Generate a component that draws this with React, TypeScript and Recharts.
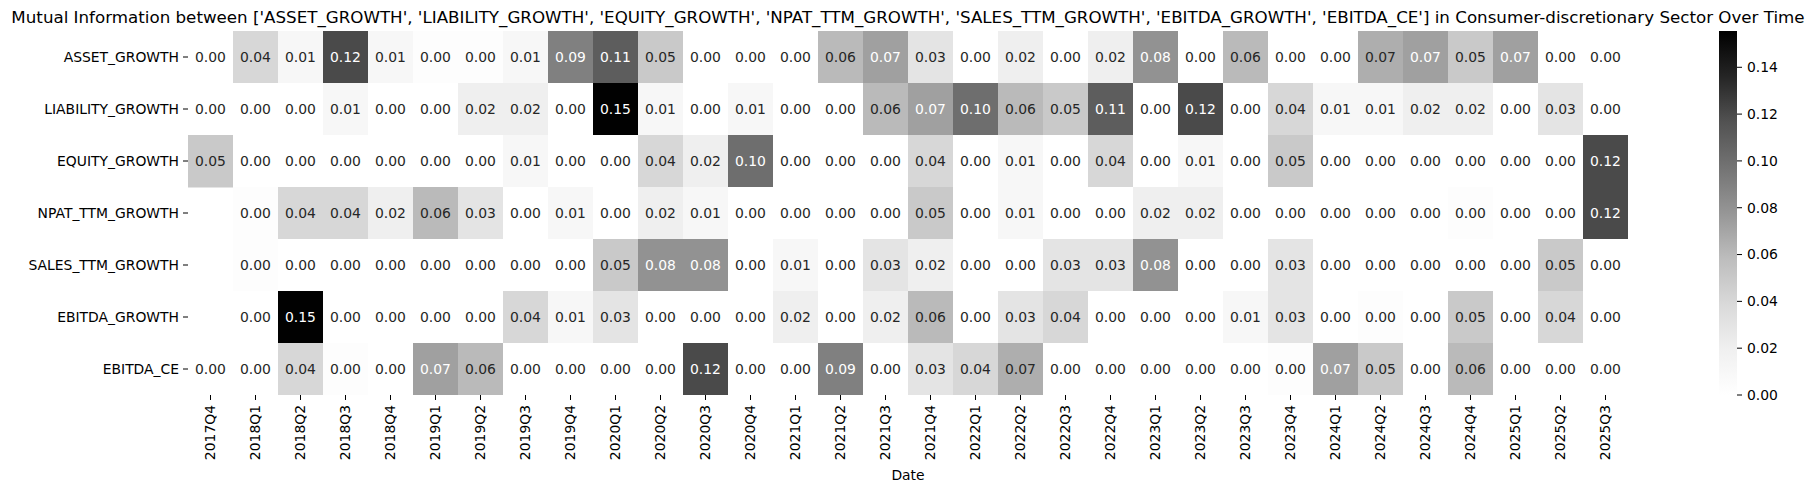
import { Bar, BarChart, Scatter, ScatterChart, XAxis, YAxis } from 'recharts';

const dates = [
  '2017Q4', '2018Q1', '2018Q2', '2018Q3', '2018Q4', '2019Q1', '2019Q2', '2019Q3',
  '2019Q4', '2020Q1', '2020Q2', '2020Q3', '2020Q4', '2021Q1', '2021Q2', '2021Q3',
  '2021Q4', '2022Q1', '2022Q2', '2022Q3', '2022Q4', '2023Q1', '2023Q2', '2023Q3',
  '2023Q4', '2024Q1', '2024Q2', '2024Q3', '2024Q4', '2025Q1', '2025Q2', '2025Q3',
];

const metrics = [
  'ASSET_GROWTH', 'LIABILITY_GROWTH', 'EQUITY_GROWTH', 'NPAT_TTM_GROWTH',
  'SALES_TTM_GROWTH', 'EBITDA_GROWTH', 'EBITDA_CE',
];

// values (some 0.07s nudged to match the text colour)
const assetGrowth = [0.00, 0.04, 0.01, 0.12, 0.01, 0.003, 0.003, 0.01, 0.09, 0.11, 0.05, 0.00, 0.00, 0.00, 0.06, 0.073, 0.03, 0.00, 0.02, 0.00, 0.02, 0.08, 0.00, 0.06, 0.00, 0.00, 0.066, 0.073, 0.05, 0.073, 0.00, 0.00];
const liabilityGrowth = [0.00, 0.00, 0.00, 0.01, 0.00, 0.00, 0.02, 0.02, 0.00, 0.155, 0.01, 0.00, 0.01, 0.00, 0.00, 0.06, 0.073, 0.10, 0.06, 0.05, 0.11, 0.00, 0.12, 0.00, 0.04, 0.01, 0.01, 0.02, 0.02, 0.00, 0.03, 0.00];
const equityGrowth = [0.05, 0.00, 0.00, 0.00, 0.00, 0.00, 0.00, 0.01, 0.00, 0.00, 0.04, 0.02, 0.10, 0.00, 0.00, 0.00, 0.04, 0.00, 0.01, 0.00, 0.04, 0.00, 0.01, 0.00, 0.05, 0.00, 0.00, 0.00, 0.00, 0.00, 0.00, 0.12];
const npatTtmGrowth = [null, 0.003, 0.04, 0.04, 0.02, 0.06, 0.03, 0.00, 0.01, 0.00, 0.02, 0.01, 0.00, 0.00, 0.00, 0.00, 0.05, 0.00, 0.01, 0.00, 0.00, 0.02, 0.02, 0.00, 0.00, 0.00, 0.00, 0.00, 0.003, 0.00, 0.00, 0.12];
const salesTtmGrowth = [null, 0.003, 0.00, 0.00, 0.00, 0.00, 0.00, 0.00, 0.00, 0.05, 0.08, 0.08, 0.00, 0.01, 0.00, 0.03, 0.02, 0.00, 0.00, 0.03, 0.03, 0.08, 0.00, 0.00, 0.03, 0.00, 0.00, 0.00, 0.00, 0.00, 0.05, 0.00];
const ebitdaGrowth = [null, 0.00, 0.155, 0.00, 0.00, 0.00, 0.00, 0.04, 0.01, 0.03, 0.00, 0.00, 0.00, 0.02, 0.00, 0.02, 0.06, 0.00, 0.03, 0.04, 0.00, 0.00, 0.00, 0.01, 0.03, 0.00, 0.003, 0.00, 0.05, 0.00, 0.04, 0.00];
const ebitdaCe = [0.00, 0.00, 0.04, 0.003, 0.00, 0.073, 0.06, 0.00, 0.00, 0.00, 0.00, 0.12, 0.00, 0.00, 0.09, 0.00, 0.03, 0.04, 0.066, 0.00, 0.00, 0.00, 0.00, 0.00, 0.003, 0.073, 0.05, 0.00, 0.06, 0.00, 0.00, 0.00];

const rows = [assetGrowth, liabilityGrowth, equityGrowth, npatTtmGrowth, salesTtmGrowth, ebitdaGrowth, ebitdaCe];

const colorbarTicks = [0, 0.02, 0.04, 0.06, 0.08, 0.1, 0.12, 0.14];
const VMAX = 0.1555;

const W = 1808;
const H = 490;
const PLOT_LEFT = 188;
const PLOT_TOP = 31;
const PLOT_W = 1440;
const PLOT_H = 364;
const X_AXIS_H = H - PLOT_TOP - PLOT_H;
const cellW = PLOT_W / dates.length;
const cellH = PLOT_H / metrics.length;

const FONT = '"DejaVu Sans", sans-serif';
const GREYS = ['#ffffff', '#f0f0f0', '#d9d9d9', '#bdbdbd', '#969696', '#737373', '#525252', '#252525', '#000000'];

const greyLevel = (v: number) => {
  const f = Math.max(0, Math.min(1, v / VMAX)) * (GREYS.length - 1);
  const i = Math.min(GREYS.length - 2, Math.floor(f));
  const t = f - i;
  const a = parseInt(GREYS[i].slice(1, 3), 16);
  const b = parseInt(GREYS[i + 1].slice(1, 3), 16);
  return Math.round(a + (b - a) * t);
};

const textColor = (g: number) => {
  const c = g / 255;
  const lin = c <= 0.03928 ? c / 12.92 : Math.pow((c + 0.055) / 1.055, 2.4);
  return lin > 0.408 ? '#262626' : '#ffffff';
};

const cells = rows.flatMap((vals, yi) =>
  vals.map((v, xi) => ({ xi, yi, v })),
);

const Cell = (props: any) => {
  const { cx, cy, payload } = props;
  if (payload.v === null || payload.v === undefined) return <g />;
  const g = greyLevel(payload.v);
  return (
    <g>
      <rect
        x={cx - cellW / 2}
        y={cy - cellH / 2}
        width={cellW + 0.5}
        height={cellH + 0.5}
        fill={`rgb(${g},${g},${g})`}
      />
      <text
        x={cx}
        y={cy}
        dy="0.36em"
        textAnchor="middle"
        fontSize={13.9}
        fontFamily={FONT}
        fill={textColor(g)}
      >
        {payload.v.toFixed(2)}
      </text>
    </g>
  );
};

const DateTick = (props: any) => {
  const { x, y, payload } = props;
  return (
    <g transform={`translate(${x},${y})`}>
      <text
        transform="rotate(-90)"
        textAnchor="end"
        dy="0.35em"
        fontSize={13.9}
        fontFamily={FONT}
        fill="#000"
      >
        {dates[payload.value]}
      </text>
    </g>
  );
};

export default function App() {
  return (
    <div style={{ position: 'absolute', left: 0, top: 0, width: W, height: H, background: '#fff', fontFamily: FONT }}>
      <svg width={0} height={0} style={{ position: 'absolute' }}>
        <defs>
          {/* stops must run top (dark) to bottom (white) with rising offsets */}
          <linearGradient id="cbGrad" x1="0" y1="0" x2="0" y2="1">
            {GREYS.map((_, i) => (
              <stop key={i} offset={i / (GREYS.length - 1)} stopColor={GREYS[GREYS.length - 1 - i]} />
            ))}
          </linearGradient>
        </defs>
      </svg>

      <svg width={W} height={40} style={{ position: 'absolute', left: 0, top: 0 }}>
        <text x={PLOT_LEFT + PLOT_W / 2} y={23} textAnchor="middle" fontSize={16.7} fontFamily={FONT} fill="#000">
          Mutual Information between ['ASSET_GROWTH', 'LIABILITY_GROWTH', 'EQUITY_GROWTH', 'NPAT_TTM_GROWTH', 'SALES_TTM_GROWTH', 'EBITDA_GROWTH', 'EBITDA_CE'] in Consumer-discretionary Sector Over Time
        </text>
      </svg>

      <div style={{ position: 'absolute', left: 0, top: 0 }}>
        <ScatterChart
          width={PLOT_LEFT + PLOT_W + 10}
          height={H}
          margin={{ top: PLOT_TOP, right: 10, bottom: 0, left: 0 }}
        >
          <XAxis
            type="number"
            dataKey="xi"
            domain={[-0.5, dates.length - 0.5]}
            ticks={dates.map((_, i) => i)}
            interval={0}
            allowDataOverflow
            height={X_AXIS_H}
            axisLine={false}
            tickLine={{ stroke: '#000' }}
            tickSize={5}
            tickMargin={5}
            tick={<DateTick />}
            label={{ value: 'Date', position: 'insideBottom', offset: 10, fontSize: 13.9, fill: '#000', fontFamily: FONT }}
          />
          <YAxis
            type="number"
            dataKey="yi"
            domain={[-0.5, metrics.length - 0.5]}
            ticks={metrics.map((_, i) => i)}
            interval={0}
            reversed
            allowDataOverflow
            width={PLOT_LEFT}
            axisLine={false}
            tickLine={{ stroke: '#000' }}
            tickSize={5}
            tickMargin={4}
            tickFormatter={(i: number) => metrics[i]}
            tick={{ fill: '#000', fontSize: 13.9, fontFamily: FONT }}
          />
          <Scatter data={cells} shape={<Cell />} isAnimationActive={false} />
        </ScatterChart>
      </div>

      <div style={{ position: 'absolute', left: 1719, top: 0 }}>
        <BarChart
          width={89}
          height={H}
          data={[{ k: 'cb', v: VMAX }]}
          margin={{ top: PLOT_TOP, right: 0, bottom: X_AXIS_H, left: 0 }}
          barCategoryGap={0}
        >
          <XAxis dataKey="k" hide />
          <YAxis
            orientation="right"
            width={71}
            domain={[0, VMAX]}
            ticks={colorbarTicks}
            interval={0}
            allowDataOverflow
            axisLine={false}
            tickLine={{ stroke: '#000' }}
            tickSize={5}
            tickMargin={5}
            tickFormatter={(v: number) => v.toFixed(2)}
            tick={{ fill: '#000', fontSize: 13.9, fontFamily: FONT }}
          />
          <Bar dataKey="v" fill="url(#cbGrad)" isAnimationActive={false} />
        </BarChart>
      </div>
    </div>
  );
}
